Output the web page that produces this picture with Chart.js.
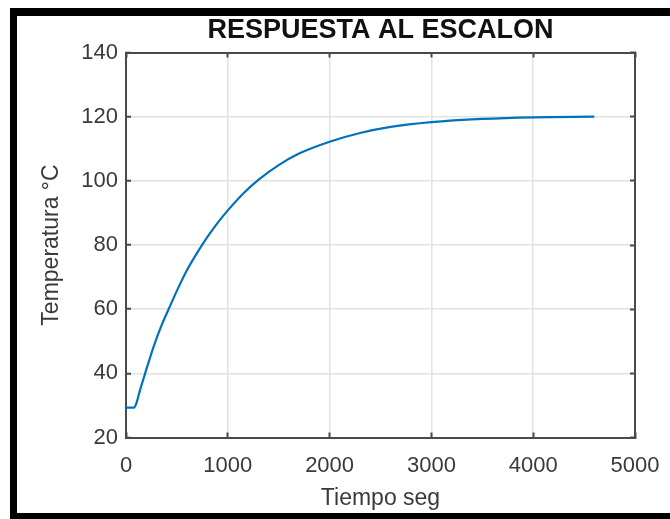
<!DOCTYPE html>
<html>
<head>
<meta charset="utf-8">
<script src="https://cdn.jsdelivr.net/npm/chart.js@4.4.0/dist/chart.umd.min.js"></script>
<style>
  html, body { margin: 0; padding: 0; background: #fff; }
  #wrap { position: relative; width: 670px; height: 519px; overflow: hidden; }
  #frame {
    position: absolute; left: 10px; top: 8px; width: 670px; height: 511px;
    box-sizing: border-box; border-top: 8px solid #000; border-left: 7px solid #000;
    border-bottom: 6px solid #000; pointer-events: none;
  }
</style>
</head>
<body>
<div id="wrap">
  <canvas id="chart" width="670" height="519"></canvas>
  <div id="frame"></div>
</div>
<script>
// respuesta al escalon
const tiempo = [0, 80, 100, 140, 190, 270, 350, 440, 520, 600, 700, 800, 900, 1000, 1150, 1300, 1500, 1700, 2000, 2300, 2600, 3000, 3500, 4000, 4600];
const temperatura = [29.3, 29.3, 30.5, 35, 40.2, 48.2, 55, 61.5, 67.1, 72.2, 77.6, 82.5, 86.9, 90.8, 96, 100.3, 104.9, 108.5, 112.2, 114.9, 116.8, 118.3, 119.3, 119.8, 120];
const xTicks = [0, 1000, 2000, 3000, 4000, 5000];
const yTicks = [20, 40, 60, 80, 100, 120, 140];

const fontFamily = "'Liberation Sans', Arial, sans-serif";
const axisColor = '#4a4a4a';
const gridColor = '#e2e2e2';
const textColor = '#3a3a3a';

const puntos = tiempo.map((t, i) => ({ x: t, y: temperatura[i] }));

const setTicks = list => scale => { scale.ticks = list.map(v => ({ value: v })); };
const plain = v => String(v);

// small inward tick marks (box style), axes with no size of their own
const tickAxis = (position, min, max, list, extra) => Object.assign({
    type: 'linear',
    position: position,
    min: min,
    max: max,
    afterBuildTicks: setTicks(list),
    afterFit: s => { if (s.isHorizontal()) s.height = 0; else s.width = 0; },
    ticks: { display: false, padding: 0 },
    grid: { drawOnChartArea: false, tickLength: -5, tickColor: axisColor, tickWidth: 2 },
    border: { display: true, color: axisColor, width: 2 }
}, extra);

new Chart(document.getElementById('chart'), {
    type: 'line',
    data: {
        datasets: [{
            data: puntos,
            borderColor: '#0072BD',
            borderWidth: 2.2,
            pointRadius: 0,
            fill: false,
            cubicInterpolationMode: 'monotone'
        }]
    },
    options: {
        responsive: false,
        animation: false,
        layout: { padding: { top: 10, right: 35, bottom: 0, left: 0 } },
        plugins: {
            legend: { display: false },
            tooltip: { enabled: false },
            title: {
                display: true,
                text: 'RESPUESTA AL ESCALON',
                color: '#111',
                fullSize: false,
                font: { family: fontFamily, size: 27, weight: 'bold' },
                padding: { top: 4.8, bottom: 5.3 }
            }
        },
        scales: {
            x: {
                type: 'linear',
                position: 'bottom',
                min: 0,
                max: 5000,
                afterBuildTicks: setTicks(xTicks),
                afterFit: s => { s.height = 81.5; },
                ticks: { color: textColor, padding: 0, maxRotation: 0, callback: plain, font: { family: fontFamily, size: 22 } },
                grid: { color: gridColor, lineWidth: 1.5, tickLength: 15, tickColor: 'rgba(0,0,0,0)' },
                border: { display: true, color: axisColor, width: 2 },
                title: { display: true, text: 'Tiempo seg', color: textColor, font: { family: fontFamily, size: 23 }, padding: { top: 0, bottom: 6.7 } }
            },
            y: {
                type: 'linear',
                position: 'left',
                min: 20,
                max: 140,
                afterBuildTicks: setTicks(yTicks),
                afterFit: s => { s.width = 126; },
                ticks: { color: textColor, padding: 13, callback: plain, font: { family: fontFamily, size: 22 } },
                grid: { color: gridColor, lineWidth: 1.5, tickLength: -5, tickColor: axisColor, tickWidth: 2 },
                border: { display: true, color: axisColor, width: 2 },
                title: { display: true, text: 'Temperatura °C', color: textColor, font: { family: fontFamily, size: 23 }, padding: { top: 38.2, bottom: 0 } }
            },
            xBottomTicks: tickAxis('bottom', 0, 5000, xTicks, { weight: -1 }),
            xTop: tickAxis('top', 0, 5000, xTicks),
            yRight: tickAxis('right', 20, 140, yTicks)
        }
    }
});
</script>
</body>
</html>
